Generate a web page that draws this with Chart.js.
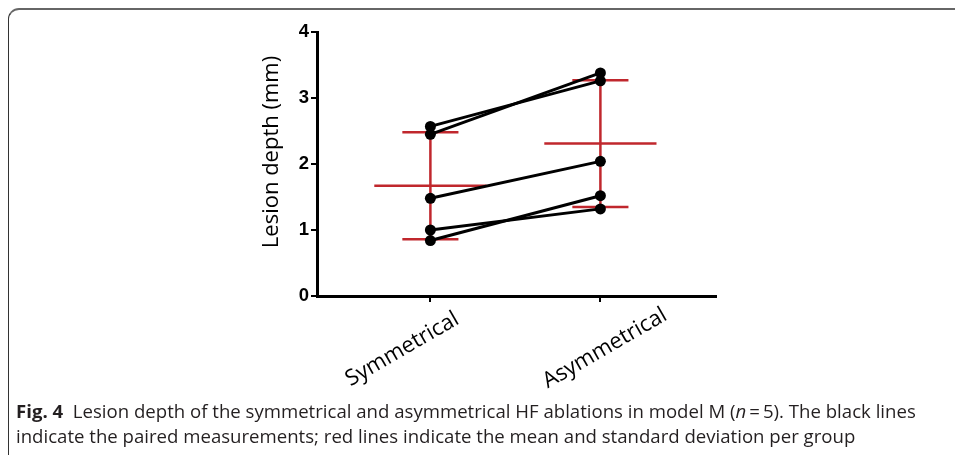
<!DOCTYPE html>
<html>
<head>
<meta charset="utf-8">
<script src="https://cdn.jsdelivr.net/npm/chart.js@4.4.1/dist/chart.umd.min.js"></script>
<style>
  html, body { margin: 0; padding: 0; background: #fff; }
  body { width: 955px; height: 455px; position: relative; overflow: hidden; }
  #frame { position: absolute; left: 8px; top: 8px; width: 970px; height: 470px;
           border-left: 1.5px solid #333; border-top: 2px solid #666; border-top-left-radius: 11px; }
  #wrap { position: absolute; left: 0; top: 0; width: 955px; height: 455px; }
  #caption { position: absolute; left: 16px; top: 398px; width: 925px;
             font-family: "Open Sans", sans-serif; font-size: 18.6px; line-height: 25px; color: #231f20; }
  #caption b { font-weight: 700; }
</style>
</head>
<body>
<div id="frame"></div>
<div id="wrap"><canvas id="c"></canvas></div>
<div id="caption"><b>Fig. 4</b>&nbsp; Lesion depth of the symmetrical and asymmetrical HF ablations in model M (<i>n</i>&thinsp;=&thinsp;5). The black lines indicate the paired measurements; red lines indicate the mean and standard deviation per group</div>
<script>
// ---- data ----
const categories = ["Symmetrical", "Asymmetrical"];
const symmetrical = [2.57, 2.45, 1.48, 1.00, 0.84];
const asymmetrical = [3.26, 3.38, 2.04, 1.32, 1.52]; // paired with symmetrical by index
const groupMeans = [1.67, 2.31];
const groupSDs = [0.81, 0.96];
const yTicks = [0, 1, 2, 3, 4];
const yTitle = "Lesion depth (mm)";

// ---- styling constants ----
const MEAN_HALF = 0.33;   // half width of mean bar (x units)
const CAP_HALF = 0.165;   // half width of SD caps (x units)
const RED = "#c0272d";
const LABEL_DX = [30, 68]; // px offsets of rotated category label ends from tick
const LABEL_DY = [27, 23]; // px below the axis line

const datasets = [];
symmetrical.forEach((v, i) => {
  datasets.push({
    data: [{x: 1, y: v}, {x: 2, y: asymmetrical[i]}],
    borderColor: "#000", backgroundColor: "#000", borderWidth: 3,
    pointRadius: 5.5, pointHoverRadius: 5.5, pointBorderWidth: 0,
    showLine: true, tension: 0
  });
});
groupMeans.forEach((m, g) => {
  const cx = g + 1, sd = groupSDs[g];
  const seg = (pts) => datasets.push({
    data: pts, borderColor: RED, borderWidth: 2.5, pointRadius: 0,
    showLine: true, tension: 0
  });
  seg([{x: cx - MEAN_HALF, y: m}, {x: cx + MEAN_HALF, y: m}]);
  seg([{x: cx, y: m - sd}, {x: cx, y: m + sd}]);
  seg([{x: cx - CAP_HALF, y: m + sd}, {x: cx + CAP_HALF, y: m + sd}]);
  seg([{x: cx - CAP_HALF, y: m - sd}, {x: cx + CAP_HALF, y: m - sd}]);
});

const labelPlugin = {
  id: "labels",
  afterDraw(chart) {
    const ctx = chart.ctx, xs = chart.scales.x, ys = chart.scales.y, ca = chart.chartArea;
    ctx.save();
    ctx.fillStyle = "#000";
    ctx.font = '22px "Open Sans"';
    ctx.textAlign = "right";
    ctx.textBaseline = "alphabetic";
    categories.forEach((c, i) => {
      const px = xs.getPixelForValue(i + 1);
      ctx.save();
      ctx.translate(px + LABEL_DX[i], ca.bottom + LABEL_DY[i]);
      ctx.rotate(-Math.PI / 6);
      ctx.fillText(c, 0, 0);
      ctx.restore();
    });
    // y-axis title
    ctx.save();
    ctx.translate(272, (ys.getPixelForValue(4) + ys.getPixelForValue(0)) / 2 - 12);
    ctx.rotate(-Math.PI / 2);
    ctx.textAlign = "center";
    ctx.textBaseline = "middle";
    ctx.fillText(yTitle, 0, 0);
    ctx.restore();
    ctx.restore();
  }
};

new Chart(document.getElementById("c"), {
  type: "scatter",
  data: { datasets },
  plugins: [labelPlugin],
  options: {
    responsive: true, maintainAspectRatio: false, animation: false,
    layout: { padding: { left: 0, top: 32, right: 239, bottom: 0 } },
    plugins: { legend: { display: false }, tooltip: { enabled: false } },
    scales: {
      x: {
        type: "linear", min: 0.333, max: 2.68,
        afterBuildTicks: (s) => { s.ticks = categories.map((c, i) => ({ value: i + 1 })); },
        afterFit: (s) => { s.height = 159; },
        border: { display: true, color: "#000", width: 3 },
        grid: { display: true, drawOnChartArea: false, drawTicks: true, tickLength: 6, color: "#000", lineWidth: 2 },
        ticks: { display: false }
      },
      y: {
        min: 0, max: 4,
        afterBuildTicks: (s) => { s.ticks = yTicks.map(v => ({ value: v })); },
        afterFit: (s) => { s.width = 317; },
        border: { display: true, color: "#000", width: 3 },
        grid: { display: true, drawOnChartArea: false, drawTicks: true, tickLength: 6, color: "#000", lineWidth: 2 },
        ticks: { color: "#000", padding: 2, font: { family: "Liberation Sans", size: 18.5, weight: "bold" } }
      }
    }
  }
});
</script>
</body>
</html>
